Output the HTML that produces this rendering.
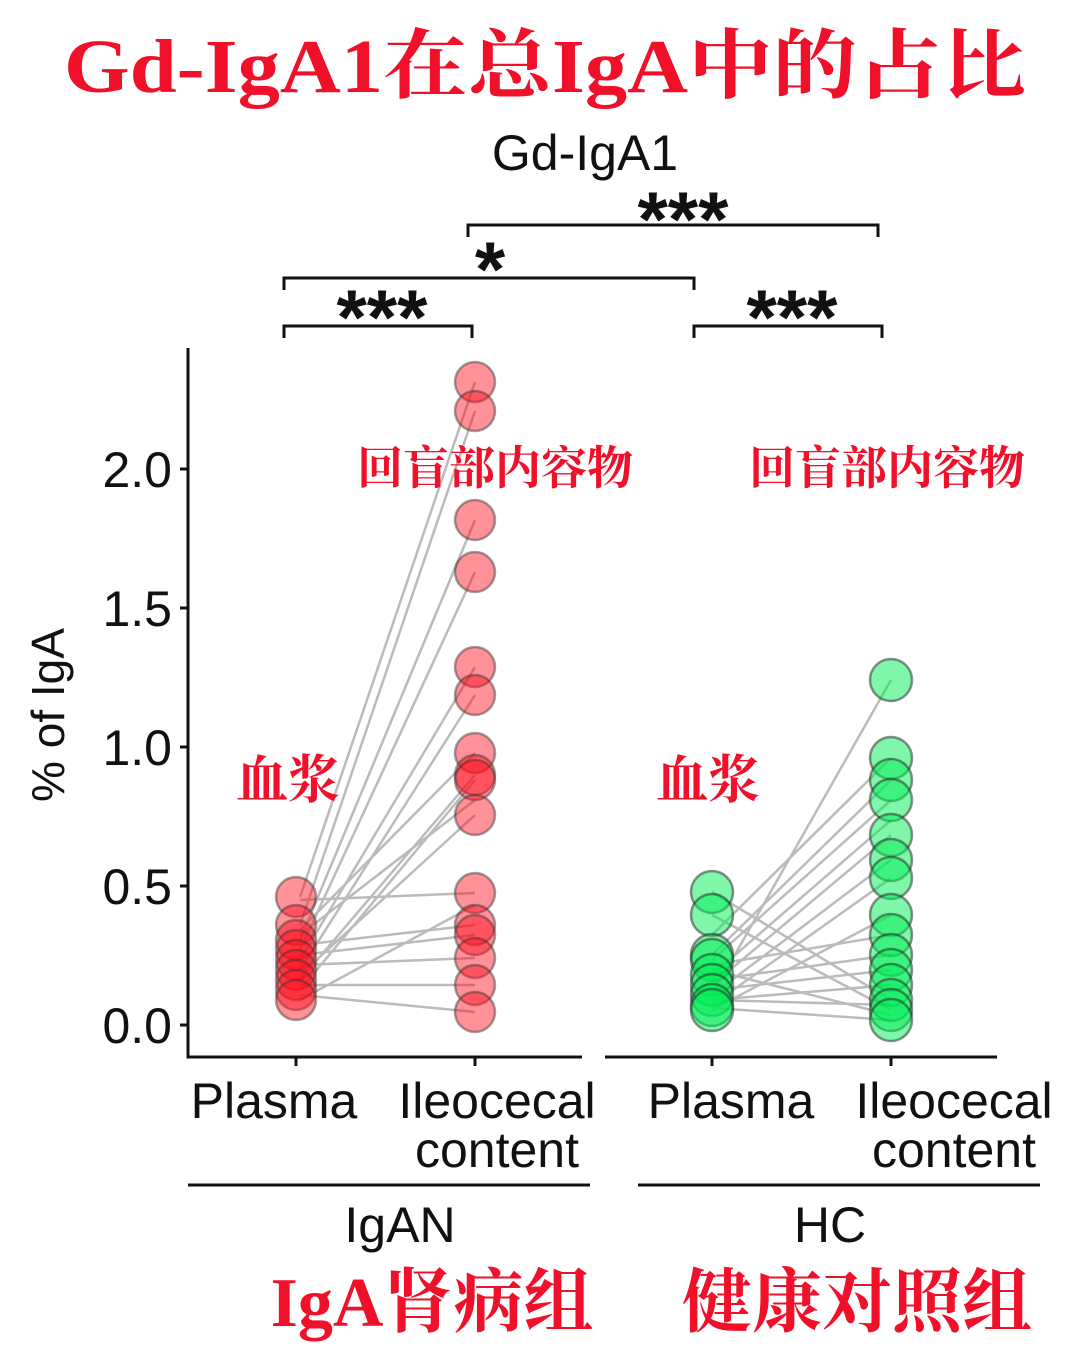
<!DOCTYPE html>
<html><head><meta charset="utf-8"><style>
body{margin:0;background:#fff}
svg{display:block}
.s{font-family:"Liberation Sans","DejaVu Sans",sans-serif;fill:#111}
.r{font-family:"Liberation Serif","Noto Serif CJK SC",serif;font-weight:bold;fill:#f0102a}
</style></head><body>
<svg width="1080" height="1361" viewBox="0 0 1080 1361" xmlns="http://www.w3.org/2000/svg">
<text class="r" x="545" y="92" font-size="76" text-anchor="middle" textLength="962" lengthAdjust="spacingAndGlyphs">Gd-IgA1在总IgA中的占比</text>
<text class="s" x="585" y="170" font-size="50" text-anchor="middle">Gd-IgA1</text>
<g stroke="#111" stroke-width="3" fill="none">
<path d="M468 237V225H878V237"/>
<path d="M284 290V278H694V290"/>
<path d="M284 338V326H472V338"/>
<path d="M694 338V326H882V338"/>
<path d="M188 348V1057H582M605 1057H997"/>
<path d="M180 469H188M180 608H188M180 747H188M180 886H188M180 1025H188"/>
<path d="M296 1057V1066M475 1057V1066M712 1057V1066M891 1057V1066"/>
<path d="M188 1185H590M638 1185H1040"/>
</g>
<g class="s" font-size="78" font-weight="bold" text-anchor="middle">
<text x="683" y="246">***</text><text x="490" y="296">*</text>
<text x="382" y="344">***</text><text x="792" y="344">***</text>
</g>
<g class="s" font-size="50" text-anchor="end">
<text x="172" y="487">2.0</text><text x="172" y="626">1.5</text><text x="172" y="765">1.0</text><text x="172" y="904">0.5</text><text x="172" y="1043">0.0</text>
</g>
<text class="s" font-size="46" transform="translate(64,715) rotate(-90)" text-anchor="middle">% of IgA</text>
<g class="s" font-size="50" text-anchor="middle">
<text x="274" y="1118">Plasma</text><text x="497" y="1118">Ileocecal</text><text x="497" y="1167">content</text>
<text x="731" y="1118">Plasma</text><text x="954" y="1118">Ileocecal</text><text x="954" y="1167">content</text>
<text x="400" y="1242">IgAN</text><text x="830" y="1242">HC</text>
</g>
<g stroke="#bbb" stroke-width="2.5">
<path d="M300 897L475 382M300 925L475 411M300 940L475 520M300 950L475 572M300 960L475 667M300 970L475 695M300 930L475 753M300 980L475 775M300 990L475 780M300 900L475 893M300 1000L475 905M300 945L475 925M300 955L475 935M300 965L475 958M300 985L475 985M300 995L475 1012M300 975L475 815M300 935L475 800"/>
<path d="M712 995L891 680M712 892L891 1000M712 915L891 1010M712 935L891 758M712 955L891 780M712 960L891 800M712 975L891 820M712 985L891 835M712 995L891 860M712 1005L891 878M712 1010L891 915M712 965L891 935M712 980L891 955M712 990L891 970M712 1000L891 985M712 1008L891 1020M712 970L891 1015M712 1000L891 1005"/>
</g>
<g fill="#ff0a1a" fill-opacity="0.45" stroke="#333" stroke-opacity="0.45" stroke-width="2.5">
<circle cx="296" cy="897" r="20"/><circle cx="296" cy="925" r="20"/><circle cx="296" cy="940" r="20"/><circle cx="296" cy="950" r="20"/><circle cx="296" cy="960" r="20"/><circle cx="296" cy="970" r="20"/><circle cx="296" cy="980" r="20"/><circle cx="296" cy="990" r="20"/><circle cx="296" cy="1000" r="20"/>
<circle cx="475" cy="382" r="20"/><circle cx="475" cy="411" r="20"/><circle cx="475" cy="520" r="20"/><circle cx="475" cy="572" r="20"/><circle cx="475" cy="667" r="20"/><circle cx="475" cy="695" r="20"/><circle cx="475" cy="753" r="20"/><circle cx="475" cy="775" r="20"/><circle cx="475" cy="780" r="20"/><circle cx="475" cy="815" r="20"/><circle cx="475" cy="893" r="20"/><circle cx="475" cy="925" r="20"/><circle cx="475" cy="935" r="20"/><circle cx="475" cy="958" r="20"/><circle cx="475" cy="985" r="20"/><circle cx="475" cy="1012" r="20"/>
</g>
<g fill="#00ee55" fill-opacity="0.5" stroke="#222" stroke-opacity="0.5" stroke-width="2.5">
<circle cx="712" cy="892" r="21"/><circle cx="712" cy="915" r="21"/><circle cx="712" cy="955" r="21"/><circle cx="712" cy="960" r="21"/><circle cx="712" cy="975" r="21"/><circle cx="712" cy="985" r="21"/><circle cx="712" cy="995" r="21"/><circle cx="712" cy="1005" r="21"/><circle cx="712" cy="1010" r="21"/>
<circle cx="891" cy="680" r="21"/><circle cx="891" cy="758" r="21"/><circle cx="891" cy="780" r="21"/><circle cx="891" cy="800" r="21"/><circle cx="891" cy="835" r="21"/><circle cx="891" cy="860" r="21"/><circle cx="891" cy="878" r="21"/><circle cx="891" cy="915" r="21"/><circle cx="891" cy="935" r="21"/><circle cx="891" cy="955" r="21"/><circle cx="891" cy="970" r="21"/><circle cx="891" cy="985" r="21"/><circle cx="891" cy="1000" r="21"/><circle cx="891" cy="1010" r="21"/><circle cx="891" cy="1020" r="21"/>
</g>
<g class="r" font-size="46">
<text x="357" y="484">回盲部内容物</text><text x="749" y="484">回盲部内容物</text>
<text x="236" y="798" font-size="52">血浆</text><text x="656" y="798" font-size="52">血浆</text>
</g>
<g class="r" font-size="70" text-anchor="middle">
<text x="432" y="1326">IgA肾病组</text><text x="857" y="1326">健康对照组</text>
</g>
</svg>
</body></html>
